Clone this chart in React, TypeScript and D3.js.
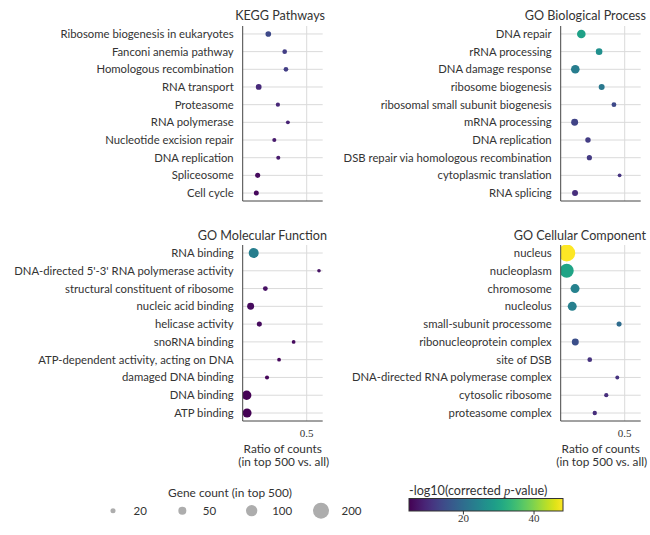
import React, { useEffect, useRef } from 'react';
import * as d3 from 'd3';

// KEGG Pathways
const keggTerms = [
  'Ribosome biogenesis in eukaryotes', 'Fanconi anemia pathway', 'Homologous recombination',
  'RNA transport', 'Proteasome', 'RNA polymerase', 'Nucleotide excision repair',
  'DNA replication', 'Spliceosome', 'Cell cycle',
];
const keggRatio = [0.20, 0.328, 0.338, 0.125, 0.275, 0.353, 0.247, 0.278, 0.117, 0.106];
const keggCount = [25, 17, 17, 26, 14, 12, 13, 13, 20, 20];
const keggLogP = [14.2, 12.5, 12.5, 9.8, 9.4, 9.0, 7.7, 7.7, 5.9, 5.5];

// GO Biological Process
const bpTerms = [
  'DNA repair', 'rRNA processing', 'DNA damage response', 'ribosome biogenesis',
  'ribosomal small subunit biogenesis', 'mRNA processing', 'DNA replication',
  'DSB repair via homologous recombination', 'cytoplasmic translation', 'RNA splicing',
];
const bpRatio = [0.161, 0.30, 0.114, 0.32, 0.416, 0.109, 0.213, 0.224, 0.46, 0.112];
const bpCount = [58, 34, 58, 28, 18, 38, 23, 21, 11, 28];
const bpLogP = [29.5, 26.4, 22.9, 22.0, 14.2, 13.3, 12.4, 12.0, 11.1, 10.3];

// GO Molecular Function
const mfTerms = [
  'RNA binding', "DNA-directed 5'-3' RNA polymerase activity", 'structural constituent of ribosome',
  'nucleic acid binding', 'helicase activity', 'snoRNA binding',
  'ATP-dependent activity, acting on DNA', 'damaged DNA binding', 'DNA binding', 'ATP binding',
];
const mfRatio = [0.086, 0.596, 0.177, 0.062, 0.13, 0.398, 0.284, 0.19, 0.031, 0.034];
const mfCount = [78, 10, 18, 38, 20, 11, 11, 13, 70, 63];
const mfLogP = [23.0, 6.8, 6.6, 5.8, 5.9, 5.9, 5.5, 5.4, 4.6, 4.7];

// GO Cellular Component
const ccTerms = [
  'nucleus', 'nucleoplasm', 'chromosome', 'nucleolus', 'small-subunit processome',
  'ribonucleoprotein complex', 'site of DSB', 'DNA-directed RNA polymerase complex',
  'cytosolic ribosome', 'proteasome complex',
];
const ccRatio = [0.047, 0.047, 0.112, 0.09, 0.456, 0.114, 0.227, 0.442, 0.356, 0.266];
const ccCount = [226, 153, 63, 63, 20, 38, 17, 12, 14, 15];
const ccLogP = [48.2, 30.0, 24.0, 23.4, 19.9, 15.0, 11.0, 11.0, 10.3, 10.3];

const sizeLegendValues = [20, 50, 100, 200];
const colorTicks = [20, 40];
const xTicks = [0.5];

const App: React.FC = () => {
  const svgRef = useRef<SVGSVGElement>(null);

  useEffect(() => {
    if (!svgRef.current) return;
    d3.select(svgRef.current).selectAll('*').remove();

    const width = 650;
    const height = 535;
    const sansFont = 'Lato, "DejaVu Sans", sans-serif';
    const serifFont = '"Liberation Serif", "DejaVu Serif", serif';
    const textColor = '#333';
    const gridColor = '#dadada';
    const spineColor = '#444';
    const labelSize = 11.3;

    const svg = d3.select(svgRef.current)
      .attr('width', width)
      .attr('height', height);

    const allLogP = [...keggLogP, ...bpLogP, ...mfLogP, ...ccLogP];
    const [pMin, pMax] = d3.extent(allLogP) as [number, number];
    const color = d3.scaleSequential(d3.interpolateViridis).domain([pMin, pMax]);
    const size = d3.scaleSqrt().domain([0, 200]).range([0, 8]);

    const panels = [
      { title: 'KEGG Pathways', terms: keggTerms, ratio: keggRatio, count: keggCount, logp: keggLogP,
        x0: 242.7, y0: 26, y1: 201, titleX: 325, titleY: 19.5, showX: false },
      { title: 'GO Biological Process', terms: bpTerms, ratio: bpRatio, count: bpCount, logp: bpLogP,
        x0: 560.7, y0: 26, y1: 201, titleX: 646, titleY: 19.5, showX: false },
      { title: 'GO Molecular Function', terms: mfTerms, ratio: mfRatio, count: mfCount, logp: mfLogP,
        x0: 242.7, y0: 245, y1: 421, titleX: 327, titleY: 239.5, showX: true },
      { title: 'GO Cellular Component', terms: ccTerms, ratio: ccRatio, count: ccCount, logp: ccLogP,
        x0: 560.7, y0: 245, y1: 421, titleX: 646, titleY: 239.5, showX: true },
    ];
    const panelWidth = 80;

    panels.forEach((p, pi) => {
      const x = d3.scaleLinear().domain([0, 0.625]).range([p.x0, p.x0 + panelWidth]);
      const y = d3.scalePoint<string>().domain(p.terms).range([p.y0, p.y1]).padding(0.45);
      const g = svg.append('g');

      // clip to the axes area
      const clipId = `clip-${pi}`;
      svg.append('clipPath').attr('id', clipId)
        .append('rect')
        .attr('x', p.x0).attr('y', p.y0)
        .attr('width', panelWidth).attr('height', p.y1 - p.y0);

      // horizontal gridlines
      p.terms.forEach(t => {
        g.append('line')
          .attr('x1', p.x0).attr('x2', p.x0 + panelWidth)
          .attr('y1', y(t)!).attr('y2', y(t)!)
          .attr('stroke', gridColor).attr('stroke-width', 1);
      });
      // vertical gridline
      xTicks.forEach(v => {
        g.append('line')
          .attr('x1', x(v)).attr('x2', x(v))
          .attr('y1', p.y0).attr('y2', p.y1)
          .attr('stroke', gridColor).attr('stroke-width', 1);
        if (p.showX) {
          g.append('text')
            .attr('x', x(v)).attr('y', p.y1 + 16)
            .attr('text-anchor', 'middle')
            .attr('font-family', serifFont).attr('font-size', 11)
            .attr('fill', textColor)
            .text(v.toString());
        }
      });

      // category labels
      p.terms.forEach(t => {
        g.append('text')
          .attr('x', p.x0 - 9)
          .attr('y', y(t)!)
          .attr('dy', '0.35em')
          .attr('text-anchor', 'end')
          .attr('font-family', sansFont).attr('font-size', labelSize)
          .attr('fill', textColor)
          .text(t);
      });

      // points
      const pts = g.append('g').attr('clip-path', `url(#${clipId})`);
      p.terms.forEach((t, i) => {
        pts.append('circle')
          .attr('cx', x(p.ratio[i]))
          .attr('cy', y(t)!)
          .attr('r', size(p.count[i]))
          .attr('fill', color(p.logp[i]));
      });

      // spines
      g.append('line')
        .attr('x1', p.x0).attr('x2', p.x0)
        .attr('y1', p.y0).attr('y2', p.y1)
        .attr('stroke', spineColor).attr('stroke-width', 1);
      g.append('line')
        .attr('x1', p.x0).attr('x2', p.x0 + panelWidth)
        .attr('y1', p.y1).attr('y2', p.y1)
        .attr('stroke', spineColor).attr('stroke-width', 1);

      // title
      g.append('text')
        .attr('x', p.titleX).attr('y', p.titleY)
        .attr('text-anchor', 'end')
        .attr('font-family', sansFont).attr('font-size', 12.6)
        .attr('fill', textColor)
        .text(p.title);

      if (p.showX) {
        const cx = p.x0 + panelWidth / 2;
        g.append('text')
          .attr('x', cx).attr('y', p.y1 + 31.5)
          .attr('text-anchor', 'middle')
          .attr('font-family', sansFont).attr('font-size', 11.8)
          .attr('fill', textColor)
          .text('Ratio of counts');
        g.append('text')
          .attr('x', cx + 1).attr('y', p.y1 + 45)
          .attr('text-anchor', 'middle')
          .attr('font-family', sansFont).attr('font-size', 11.8)
          .attr('fill', textColor)
          .text('(in top 500 vs. all)');
      }
    });

    // size legend
    const sizeLegend = svg.append('g');
    sizeLegend.append('text')
      .attr('x', 230).attr('y', 496.5)
      .attr('text-anchor', 'middle')
      .attr('font-family', sansFont).attr('font-size', 11.9)
      .attr('fill', textColor)
      .text('Gene count (in top 500)');
    const legendX = d3.scalePoint<number>().domain(sizeLegendValues).range([113, 321]);
    sizeLegendValues.forEach(v => {
      sizeLegend.append('circle')
        .attr('cx', legendX(v)!).attr('cy', 510.7)
        .attr('r', size(v))
        .attr('fill', '#adadad');
      sizeLegend.append('text')
        .attr('x', legendX(v)! + 20.5).attr('y', 510.7)
        .attr('dy', '0.35em')
        .attr('font-family', sansFont).attr('font-size', 11.5)
        .attr('fill', textColor)
        .text(v.toString());
    });

    // colorbar
    const cbX0 = 409;
    const cbX1 = 563;
    const cbY0 = 498.5;
    const cbH = 12.5;
    const cbScale = d3.scaleLinear().domain([pMin, pMax]).range([cbX0, cbX1]);
    const defs = svg.append('defs');
    const grad = defs.append('linearGradient').attr('id', 'viridis-grad')
      .attr('x1', '0%').attr('x2', '100%').attr('y1', '0%').attr('y2', '0%');
    d3.range(0, 1.0001, 0.05).forEach(t => {
      grad.append('stop')
        .attr('offset', `${t * 100}%`)
        .attr('stop-color', d3.interpolateViridis(t));
    });
    const cb = svg.append('g');
    cb.append('text')
      .attr('x', cbX0).attr('y', 495)
      .attr('font-family', sansFont).attr('font-size', 12.6)
      .attr('fill', textColor)
      .call(t => {
        t.append('tspan').text('-log10(corrected ');
        t.append('tspan').attr('font-style', 'italic').attr('font-family', serifFont).text('p');
        t.append('tspan').text('-value)');
      });
    cb.append('rect')
      .attr('x', cbX0).attr('y', cbY0)
      .attr('width', cbX1 - cbX0).attr('height', cbH)
      .attr('fill', 'url(#viridis-grad)')
      .attr('stroke', '#333').attr('stroke-width', 1);
    colorTicks.forEach(v => {
      cb.append('line')
        .attr('x1', cbScale(v)).attr('x2', cbScale(v))
        .attr('y1', cbY0 + cbH).attr('y2', cbY0 + cbH + 3.5)
        .attr('stroke', '#333').attr('stroke-width', 1);
      cb.append('text')
        .attr('x', cbScale(v)).attr('y', 521.5)
        .attr('text-anchor', 'middle')
        .attr('font-family', serifFont).attr('font-size', 11)
        .attr('fill', textColor)
        .text(v.toString());
    });
  }, []);

  return (
    <svg ref={svgRef} style={{ position: 'absolute', left: 0, top: 0, background: '#fff' }}></svg>
  );
};

export default App;
